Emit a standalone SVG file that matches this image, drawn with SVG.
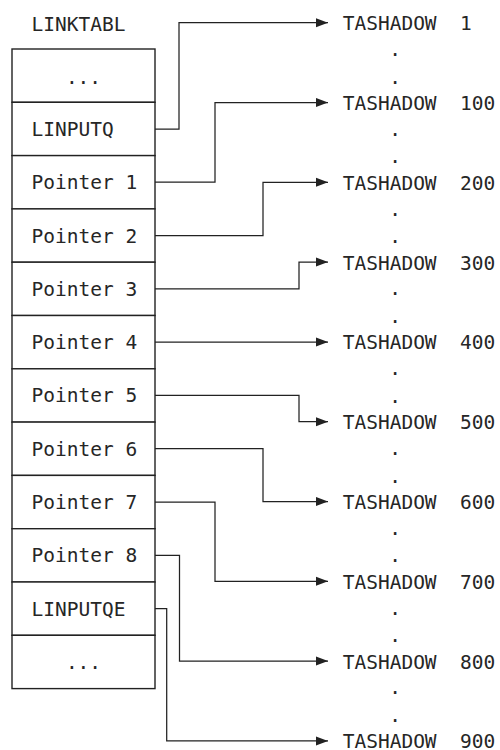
<svg xmlns="http://www.w3.org/2000/svg" width="500" height="750" viewBox="0 0 500 750">
<style>
text{font-family:"DejaVu Sans Mono","Liberation Mono",monospace;font-size:19.5px;fill:#262626}
.cell{fill:#fff;stroke:#222;stroke-width:1.4}
.c{fill:none;stroke:#222;stroke-width:1.25}
.m{text-anchor:middle}
</style>
<defs>
<marker id="ah" markerUnits="userSpaceOnUse" markerWidth="13" markerHeight="11" refX="12.5" refY="5" orient="auto"><path d="M0,0.3 L12.5,5 L0,9.7 Z" fill="#222"/></marker>
</defs>
<rect width="500" height="750" fill="#fff"/>
<text x="31.5" y="30.7">LINKTABL</text>
<g id="table">
<g id="cell-top"><rect class="cell" x="12" y="49" width="143" height="53.3"/><text class="m" x="83.5" y="83.5">...</text></g>
<g id="cell-linputq"><rect class="cell" x="12" y="102.3" width="143" height="53.3"/><text x="31.5" y="135.8">LINPUTQ</text></g>
<g id="cell-p1"><rect class="cell" x="12" y="155.6" width="143" height="53.3"/><text x="31.5" y="189.2">Pointer 1</text></g>
<g id="cell-p2"><rect class="cell" x="12" y="208.9" width="143" height="53.3"/><text x="31.5" y="242.5">Pointer 2</text></g>
<g id="cell-p3"><rect class="cell" x="12" y="262.2" width="143" height="53.3"/><text x="31.5" y="295.8">Pointer 3</text></g>
<g id="cell-p4"><rect class="cell" x="12" y="315.5" width="143" height="53.3"/><text x="31.5" y="349.1">Pointer 4</text></g>
<g id="cell-p5"><rect class="cell" x="12" y="368.8" width="143" height="53.3"/><text x="31.5" y="402.4">Pointer 5</text></g>
<g id="cell-p6"><rect class="cell" x="12" y="422.1" width="143" height="53.3"/><text x="31.5" y="455.7">Pointer 6</text></g>
<g id="cell-p7"><rect class="cell" x="12" y="475.4" width="143" height="53.3"/><text x="31.5" y="509">Pointer 7</text></g>
<g id="cell-p8"><rect class="cell" x="12" y="528.7" width="143" height="53.3"/><text x="31.5" y="562.3">Pointer 8</text></g>
<g id="cell-linputqe"><rect class="cell" x="12" y="582" width="143" height="53.3"/><text x="31.5" y="615.6">LINPUTQE</text></g>
<g id="cell-bottom"><rect class="cell" x="12" y="635.3" width="143" height="53.3"/><text class="m" x="83.5" y="668.5">...</text></g>
</g>
<g id="connectors">
<path class="c" marker-end="url(#ah)" d="M155,129 H179 V22.7 H328"/>
<path class="c" marker-end="url(#ah)" d="M155,182.2 H215 V102.5 H328"/>
<path class="c" marker-end="url(#ah)" d="M155,235.5 H263 V182.3 H328"/>
<path class="c" marker-end="url(#ah)" d="M155,288.8 H299 V262.1 H328"/>
<path class="c" marker-end="url(#ah)" d="M155,342 H328"/>
<path class="c" marker-end="url(#ah)" d="M155,395.4 H299 V421.7 H328"/>
<path class="c" marker-end="url(#ah)" d="M155,448.7 H263 V501.5 H328"/>
<path class="c" marker-end="url(#ah)" d="M155,502 H215 V581.3 H328"/>
<path class="c" marker-end="url(#ah)" d="M155,555.3 H179.5 V661.1 H328"/>
<path class="c" marker-end="url(#ah)" d="M155,608.6 H166.7 V740.9 H328"/>
</g>
<g id="t1"><text x="342.7" y="30.2" xml:space="preserve">TASHADOW  1</text></g>
<g id="t100"><text x="342.7" y="110" xml:space="preserve">TASHADOW  100</text></g>
<g id="t200"><text x="342.7" y="189.8" xml:space="preserve">TASHADOW  200</text></g>
<g id="t300"><text x="342.7" y="269.6" xml:space="preserve">TASHADOW  300</text></g>
<g id="t400"><text x="342.7" y="349.4" xml:space="preserve">TASHADOW  400</text></g>
<g id="t500"><text x="342.7" y="429.2" xml:space="preserve">TASHADOW  500</text></g>
<g id="t600"><text x="342.7" y="509" xml:space="preserve">TASHADOW  600</text></g>
<g id="t700"><text x="342.7" y="588.8" xml:space="preserve">TASHADOW  700</text></g>
<g id="t800"><text x="342.7" y="668.6" xml:space="preserve">TASHADOW  800</text></g>
<g id="t900"><text x="342.7" y="747.6" xml:space="preserve">TASHADOW  900</text></g>
<g id="dots">
<text class="m" x="395" y="56">.</text><text class="m" x="395" y="83.5">.</text>
<text class="m" x="395" y="135.8">.</text><text class="m" x="395" y="163.3">.</text>
<text class="m" x="395" y="215.6">.</text><text class="m" x="395" y="243.1">.</text>
<text class="m" x="395" y="295.4">.</text><text class="m" x="395" y="322.9">.</text>
<text class="m" x="395" y="375.2">.</text><text class="m" x="395" y="402.7">.</text>
<text class="m" x="395" y="455">.</text><text class="m" x="395" y="482.5">.</text>
<text class="m" x="395" y="534.8">.</text><text class="m" x="395" y="562.3">.</text>
<text class="m" x="395" y="614.6">.</text><text class="m" x="395" y="642.1">.</text>
<text class="m" x="395" y="694.4">.</text><text class="m" x="395" y="721.9">.</text>
</g>
</svg>
